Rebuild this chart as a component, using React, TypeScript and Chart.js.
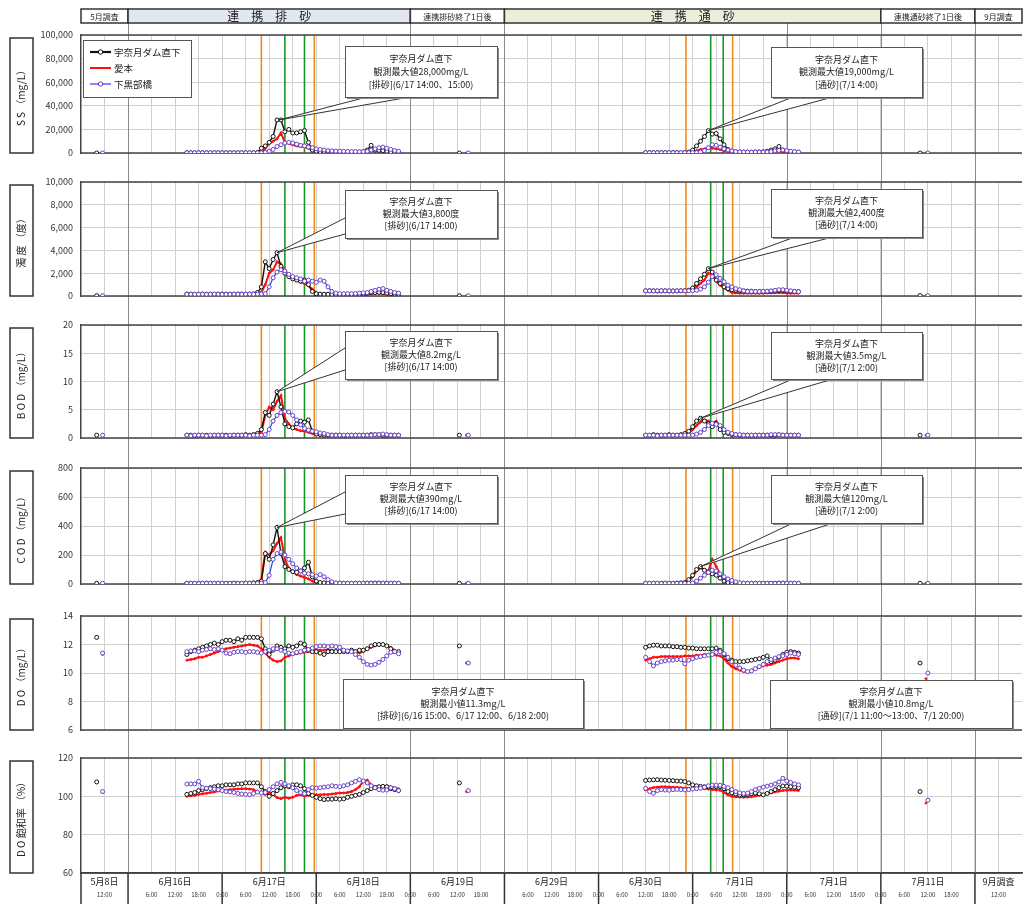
import React, { useEffect, useRef } from 'react';
import { Chart, registerables } from 'chart.js';

Chart.register(...registerables);

const FONT = '"Noto Sans CJK JP", "Noto Sans", sans-serif';

// ---------- x axis: compressed time line, hours from 5/8 6:00 ----------
const sectionLabels = ['5月8日', '6月16日', '6月17日', '6月18日', '6月19日', '6月29日', '6月30日', '7月1日', '7月1日', '7月11日', '9月調査'];
const sectionBounds = [0, 12, 36, 60, 84, 108, 132, 156, 180, 204, 228, 240];
const timeTickHours = [6, 12, 18, 24, 30, 36, 42, 48, 54, 60, 66, 72, 78, 84, 90, 96, 102, 108, 114, 120, 126, 132, 138, 144, 150, 156, 162, 168, 174, 180, 186, 192, 198, 204, 210, 216, 222, 228, 234];
const timeTickLabels = ['12:00', '', '6:00', '12:00', '18:00', '0:00', '6:00', '12:00', '18:00', '0:00', '6:00', '12:00', '18:00', '0:00', '6:00', '12:00', '18:00', '', '6:00', '12:00', '18:00', '0:00', '6:00', '12:00', '18:00', '0:00', '6:00', '12:00', '18:00', '0:00', '6:00', '12:00', '18:00', '0:00', '6:00', '12:00', '18:00', '', '12:00'];
const headerLabels = ['5月調査', '連 携 排 砂', '連携排砂終了1日後', '連 携 通 砂', '連携通砂終了1日後', '9月調査'];
const headerBounds = [0, 12, 84, 108, 204, 228, 240];
const separatorHours = [12, 84, 108, 180, 204, 228];
const orangeLineHours = [46, 59.5, 154.3, 166.2];
const greenLineHours = [52, 57, 160.6, 163.8];

// ---------- sampling times ----------
const P1_START = 27; // 6/16 15:00, hourly
const P2_START = 144; // 6/30 12:00, hourly
const singleHoursBlack = [4, 96.5, 214];
const singleHoursRed = [5.5, 98.3, 215.5];
const singleHoursBlue = [5.5, 98.8, 216];

const stationNames = ['宇奈月ダム直下', '愛本', '下黒部橋'];

// ---------- SS (mg/L) ----------
const ssBlack1 = [200, 180, 150, 160, 170, 150, 140, 160, 150, 130, 150, 160, 170, 150, 140, 150, 160, 180, 500, 4000, 6000, 9000, 14000, 28000, 28000, 18000, 20000, 17000, 17000, 18000, 19000, 9000, 2500, 1500, 1200, 1100, 1000, 900, 900, 800, 800, 700, 700, 700, 800, 1200, 2500, 6500, 2500, 2200, 2000, 1500, 1000, 700, 500];
const ssRed1 = [120, 110, 100, 100, 90, 100, 110, 100, 90, 100, 100, 110, 120, 100, 100, 90, 100, 120, 200, 1000, 4000, 8000, 10000, 12000, 17000, 9000, 8000, 7000, 6000, 5500, 5000, 4000, 2500, 1000, 600, 500, 500, 400, 400, 400, 300, 300, 300, 400, 500, 800, 1200, 2000, 2500, 2500, 2000, 1500, 1000, 500, 300];
const ssBlue1 = [200, 210, 190, 200, 220, 200, 190, 210, 200, 200, 190, 200, 210, 200, 190, 200, 220, 200, 210, 230, 500, 1500, 3000, 5500, 7000, 8500, 9000, 8500, 7500, 6500, 6000, 5000, 4500, 3500, 3000, 2500, 2000, 1800, 1600, 1500, 1400, 1300, 1200, 1200, 1100, 1200, 1500, 2500, 3500, 4500, 5000, 4000, 3000, 2000, 1500];
const ssBlack2 = [300, 280, 300, 320, 300, 290, 300, 310, 300, 320, 350, 800, 2500, 6000, 10000, 14000, 19000, 16000, 16500, 12000, 7000, 3000, 1500, 1000, 800, 800, 700, 700, 800, 900, 1000, 1500, 2500, 3500, 5500, 2500, 1500, 1000, 800, 600];
const ssRed2 = [200, 200, 180, 200, 210, 200, 190, 200, 200, 210, 220, 250, 800, 2000, 3000, 3500, 4500, 4000, 3500, 3000, 2000, 1200, 800, 500, 500, 450, 450, 500, 500, 500, 550, 600, 800, 1000, 1200, 1000, 800, 600, 500, 400];
const ssBlue2 = [300, 310, 300, 290, 300, 300, 310, 300, 300, 320, 300, 310, 330, 400, 800, 2000, 4500, 7000, 6500, 5000, 3500, 2500, 1800, 1200, 900, 800, 800, 750, 800, 800, 850, 900, 1200, 1800, 2200, 2500, 2000, 1500, 1200, 900];
const ssSingleBlack = [5, 3, 4];
const ssSingleRed = [3, 2, 3];
const ssSingleBlue = [4, 3, 3];

// ---------- 濁度 (度) ----------
const turbBlack1 = [170, 160, 150, 160, 170, 160, 150, 150, 160, 170, 160, 150, 160, 170, 170, 160, 170, 180, 300, 800, 3000, 2400, 3200, 3800, 2600, 2000, 1700, 1500, 1400, 1300, 1400, 1000, 400, 200, 170, 160, 150, 150, 140, 140, 150, 150, 140, 150, 160, 180, 220, 280, 300, 320, 300, 250, 200, 170, 150];
const turbRed1 = [150, 150, 140, 150, 160, 150, 150, 140, 150, 150, 160, 150, 150, 160, 150, 150, 160, 170, 200, 300, 1000, 2000, 2300, 3000, 2800, 2200, 1900, 1600, 1400, 1200, 1100, 900, 600, 300, 150, 110, 100, 100, 100, 90, 100, 100, 100, 110, 120, 140, 150, 200, 250, 250, 200, 150, 120, 100, 100];
const turbBlue1 = [150, 160, 150, 150, 160, 150, 160, 170, 160, 150, 150, 160, 170, 160, 150, 160, 170, 160, 170, 180, 200, 800, 1600, 2100, 2300, 2200, 1900, 1700, 1600, 1500, 1300, 1400, 1300, 1200, 1400, 1300, 800, 400, 250, 200, 200, 210, 200, 220, 250, 280, 300, 400, 500, 600, 650, 500, 400, 300, 250];
const turbBlack2 = [450, 460, 450, 440, 450, 460, 450, 440, 450, 460, 470, 500, 700, 1100, 1500, 1900, 2400, 2100, 1400, 1100, 800, 650, 550, 500, 480, 450, 430, 420, 400, 400, 400, 400, 420, 450, 480, 500, 450, 420, 400, 380];
const turbRed2 = [400, 400, 390, 400, 410, 400, 400, 390, 400, 410, 420, 440, 500, 800, 1100, 1400, 2000, 1850, 1300, 950, 700, 500, 300, 260, 250, 250, 240, 250, 250, 240, 250, 260, 270, 280, 300, 280, 260, 250, 250, 240];
const turbBlue2 = [450, 450, 440, 450, 460, 450, 450, 440, 450, 460, 450, 460, 470, 500, 600, 800, 1200, 1700, 1850, 1550, 1250, 950, 800, 650, 550, 450, 400, 400, 390, 400, 410, 420, 450, 500, 550, 550, 500, 450, 400, 380];
const turbSingleBlack = [30, 20, 40];
const turbSingleRed = [20, 15, 30];
const turbSingleBlue = [25, 20, 30];

// ---------- BOD (mg/L) ----------
const bodBlack1 = [0.5, 0.5, 0.4, 0.5, 0.5, 0.5, 0.4, 0.5, 0.5, 0.5, 0.5, 0.4, 0.5, 0.5, 0.5, 0.6, 0.5, 0.6, 0.8, 1.5, 4.5, 4.0, 6.0, 8.2, 5.5, 2.5, 2.0, 1.8, 2.5, 3.0, 2.8, 3.2, 1.2, 0.7, 0.6, 0.5, 0.5, 0.5, 0.5, 0.5, 0.4, 0.5, 0.5, 0.5, 0.5, 0.5, 0.5, 0.6, 0.6, 0.6, 0.5, 0.5, 0.5, 0.5, 0.5];
const bodRed1 = [0.5, 0.5, 0.5, 0.5, 0.4, 0.5, 0.5, 0.5, 0.5, 0.5, 0.5, 0.4, 0.5, 0.5, 0.5, 0.5, 0.5, 0.5, 0.6, 1.0, 4.0, 5.5, 5.0, 6.5, 7.5, 3.5, 2.5, 1.8, 1.5, 1.3, 1.2, 1.0, 0.8, 0.6, 0.5, 0.5, 0.5, 0.4, 0.5, 0.5, 0.5, 0.5, 0.4, 0.5, 0.5, 0.5, 0.5, 0.5, 0.6, 0.5, 0.5, 0.5, 0.5, 0.5, 0.5];
const bodBlue1 = [0.5, 0.4, 0.5, 0.5, 0.5, 0.4, 0.5, 0.5, 0.5, 0.5, 0.4, 0.5, 0.5, 0.5, 0.5, 0.5, 0.4, 0.5, 0.5, 0.5, 0.6, 1.5, 3.0, 4.0, 4.5, 4.7, 4.6, 4.0, 3.2, 2.3, 1.7, 1.4, 1.2, 1.1, 0.9, 0.8, 0.6, 0.5, 0.5, 0.5, 0.5, 0.5, 0.5, 0.5, 0.5, 0.5, 0.5, 0.5, 0.6, 0.6, 0.7, 0.6, 0.5, 0.5, 0.5];
const bodBlack2 = [0.5, 0.5, 0.6, 0.5, 0.5, 0.5, 0.6, 0.5, 0.5, 0.6, 0.8, 1.2, 2.0, 3.0, 3.5, 3.0, 2.5, 2.0, 2.6, 1.5, 1.0, 0.8, 0.6, 0.6, 0.5, 0.5, 0.5, 0.5, 0.5, 0.5, 0.5, 0.5, 0.5, 0.5, 0.6, 0.5, 0.5, 0.5, 0.5, 0.5];
const bodRed2 = [0.5, 0.5, 0.5, 0.5, 0.5, 0.5, 0.5, 0.5, 0.5, 0.5, 0.6, 0.8, 1.5, 2.2, 2.8, 3.2, 3.0, 2.6, 3.0, 1.8, 1.0, 0.7, 0.6, 0.5, 0.5, 0.5, 0.5, 0.5, 0.4, 0.5, 0.5, 0.5, 0.5, 0.5, 0.5, 0.5, 0.5, 0.5, 0.5, 0.5];
const bodBlue2 = [0.5, 0.5, 0.5, 0.4, 0.5, 0.5, 0.5, 0.5, 0.5, 0.5, 0.5, 0.5, 0.5, 0.7, 1.0, 1.5, 2.2, 2.6, 2.4, 2.2, 1.5, 1.0, 0.8, 0.6, 0.6, 0.5, 0.5, 0.5, 0.5, 0.5, 0.5, 0.5, 0.6, 0.6, 0.6, 0.5, 0.5, 0.5, 0.5, 0.5];
const bodSingleBlack = [0.5, 0.5, 0.5];
const bodSingleRed = [0.5, 0.5, 0.5];
const bodSingleBlue = [0.5, 0.5, 0.5];

// ---------- COD (mg/L) ----------
const codBlack1 = [5, 5, 4, 5, 5, 6, 5, 5, 5, 4, 5, 5, 6, 5, 5, 6, 6, 8, 10, 20, 210, 170, 270, 390, 210, 120, 100, 85, 80, 90, 110, 150, 50, 20, 10, 8, 6, 5, 5, 5, 5, 5, 5, 5, 5, 5, 6, 6, 6, 6, 5, 5, 5, 5, 5];
const codRed1 = [5, 5, 5, 5, 5, 5, 4, 5, 5, 5, 5, 5, 5, 5, 4, 5, 5, 6, 8, 30, 220, 200, 230, 280, 320, 170, 110, 85, 65, 55, 45, 35, 20, 10, 6, 5, 5, 5, 5, 5, 4, 5, 5, 5, 5, 5, 5, 5, 5, 5, 5, 5, 5, 5, 5];
const codBlue1 = [5, 5, 5, 4, 5, 5, 5, 5, 6, 5, 5, 5, 5, 4, 5, 5, 5, 5, 5, 6, 10, 60, 170, 210, 220, 200, 170, 140, 110, 90, 75, 70, 65, 55, 65, 50, 30, 15, 8, 6, 5, 5, 5, 5, 5, 5, 5, 5, 5, 6, 6, 6, 5, 5, 5];
const codBlack2 = [5, 5, 5, 5, 5, 6, 5, 5, 6, 8, 10, 30, 60, 100, 120, 95, 80, 70, 60, 40, 20, 10, 8, 6, 5, 5, 5, 5, 5, 5, 5, 5, 5, 5, 6, 6, 5, 5, 5, 5];
const codRed2 = [5, 5, 5, 5, 5, 5, 5, 5, 5, 6, 8, 20, 50, 90, 110, 100, 90, 170, 120, 70, 40, 20, 10, 6, 5, 5, 5, 5, 5, 5, 5, 5, 5, 5, 5, 5, 5, 5, 5, 5];
const codBlue2 = [5, 5, 5, 5, 4, 5, 5, 5, 5, 5, 5, 5, 6, 20, 40, 60, 80, 95, 90, 70, 50, 35, 25, 15, 8, 6, 5, 5, 5, 5, 5, 5, 5, 5, 5, 5, 5, 5, 5, 5];
const codSingleBlack = [5, 5, 5];
const codSingleRed = [5, 5, 5];
const codSingleBlue = [5, 5, 5];

// ---------- DO (mg/L) ----------
const doBlack1 = [11.3, 11.5, 11.6, 11.7, 11.8, 11.9, 12.0, 12.1, 12.0, 12.2, 12.3, 12.3, 12.2, 12.4, 12.3, 12.5, 12.5, 12.5, 12.5, 12.4, 11.7, 11.3, 11.6, 11.9, 11.8, 11.7, 11.9, 11.8, 11.9, 12.1, 12.0, 11.6, 11.5, 11.5, 11.4, 11.3, 11.5, 11.5, 11.5, 11.5, 11.5, 11.5, 11.6, 11.5, 11.6, 11.6, 11.7, 11.9, 12.0, 12.0, 12.0, 11.9, 11.7, 11.5, 11.5];
const doRed1 = [10.9, 10.95, 11.0, 11.1, 11.1, 11.2, 11.3, 11.4, 11.5, 11.6, 11.7, 11.75, 11.8, 11.85, 11.9, 11.95, 12.0, 11.95, 11.9, 11.7, 11.4, 11.1, 10.9, 10.8, 10.85, 11.1, 11.2, 11.3, 11.35, 11.4, 11.45, 11.5, 11.55, 11.6, 11.6, 11.6, 11.65, 11.6, 11.55, 11.6, 11.55, 11.5, 11.5, 11.45, 11.4, 11.5, 11.7, 11.8, 11.9, 12.0, 12.0, 11.9, 11.8, 11.6, 11.5];
const doBlue1 = [11.5, 11.55, 11.55, 11.5, 11.6, 11.65, 11.7, 11.65, 11.7, 11.6, 11.4, 11.35, 11.45, 11.5, 11.5, 11.45, 11.5, 11.5, 11.45, 11.4, 11.5, 11.6, 11.7, 11.7, 11.6, 11.5, 11.4, 11.35, 11.45, 11.5, 11.6, 11.65, 11.75, 11.85, 11.9, 11.9, 11.85, 11.9, 11.85, 11.8, 11.6, 11.55, 11.5, 11.3, 11.1, 10.8, 10.6, 10.55, 10.6, 10.75, 10.95, 11.2, 11.45, 11.5, 11.35];
const doBlack2 = [11.8, 11.9, 11.95, 11.95, 11.9, 11.9, 11.9, 11.85, 11.85, 11.8, 11.8, 11.75, 11.75, 11.7, 11.7, 11.7, 11.7, 11.7, 11.75, 11.6, 11.3, 11.0, 10.9, 10.8, 10.8, 10.8, 10.85, 10.9, 10.95, 11.0, 11.1, 11.2, 10.8, 10.9, 11.1, 11.3, 11.45, 11.5, 11.45, 11.4];
const doRed2 = [10.9, 11.0, 11.1, 11.1, 11.15, 11.15, 11.15, 11.15, 11.15, 11.15, 11.2, 11.2, 11.2, 11.25, 11.25, 11.3, 11.3, 11.3, 11.25, 11.2, 11.0, 10.7, 10.45, 10.3, 10.2, 10.1, 10.1, 10.2, 10.3, 10.4, 10.5, 10.55, 10.6, 10.7, 10.8, 10.9, 11.0, 11.05, 11.05, 11.0];
const doBlue2 = [11.1, 10.8, 10.5, 10.7, 10.8, 10.85, 10.9, 10.9, 10.95, 10.95, 10.65, 10.9, 11.0, 11.1, 11.15, 11.2, 11.25, 11.3, 11.45, 11.5, 11.35, 11.1, 10.8, 10.55, 10.35, 10.2, 10.1, 10.15, 10.3, 10.45, 10.6, 10.8, 10.95, 11.05, 11.15, 11.2, 11.3, 11.4, 11.35, 11.3];
const doSingleBlack = [12.5, 11.9, 10.7];
const doSingleRed = [11.3, 10.7, 9.6];
const doSingleBlue = [11.4, 10.7, 10.0];

// ---------- DO飽和率 (%) ----------
const satBlack1 = [101, 101.5, 102, 103, 103.5, 104, 104.5, 105, 105.5, 105.5, 106, 106, 106, 106.5, 106.5, 107, 107, 107, 107, 105, 102.5, 100, 101.5, 103, 104.5, 105.5, 105, 106, 106, 105.5, 104, 101.5, 100.5, 99.5, 98.8, 98.3, 98.5, 98.5, 98.8, 98.5, 98.7, 99.5, 100, 100.5, 101, 102, 103, 104, 104.5, 105, 105.2, 105, 104, 103.5, 103];
const satRed1 = [100, 100.3, 100.5, 101, 101.3, 101.6, 102, 102.3, 102.8, 103, 103.3, 103.5, 103.7, 103.8, 104, 104, 103.8, 103.5, 102.5, 101.5, 101, 102, 101, 99.3, 98.8, 99.5, 99, 99.5, 100.5, 100.8, 100.2, 100.5, 100.6, 100.8, 100.8, 101, 101, 101.2, 101.5, 101.7, 101.8, 102, 102.5, 103.5, 105, 108, 108.5, 106, 105.2, 105.3, 105.2, 105.5, 105, 104.5, 104];
const satBlue1 = [106.4, 106.5, 106.5, 107.8, 104.5, 104.2, 104, 103.8, 103.5, 103, 102.5, 102.3, 102, 101.5, 101.2, 101, 100.9, 101.5, 102.2, 101.8, 102, 103.5, 105, 106.5, 107.3, 106.5, 105.5, 104.5, 103, 102, 101.4, 103.5, 104.5, 104.3, 104.5, 104.8, 105, 105.5, 105.2, 105, 105.5, 106, 107, 107.8, 108.7, 108, 107, 105.5, 104.5, 103.5, 103.2, 103.3, 104.5, 104, 103];
const satBlack2 = [108.3, 108.5, 108.6, 108.7, 108.5, 108.4, 108.3, 108.2, 108, 107.9, 107.7, 107, 106, 105.5, 105.2, 105, 105, 105, 105, 105, 104, 102.5, 101.8, 101.2, 100.7, 100.8, 101, 101.4, 101.7, 101.3, 100.8, 101.5, 102.5, 103.5, 104.5, 105.4, 105.3, 105, 104.8, 104.5];
const satRed2 = [103.3, 104, 104.6, 104.8, 105, 105, 104.9, 104.8, 104.7, 104.5, 104.3, 104.2, 104, 104.2, 104.3, 104, 103.8, 103.5, 103.3, 103.2, 102, 100.7, 100, 99.8, 99.6, 99.5, 99.6, 99.8, 100.2, 100.6, 101, 101.4, 101.8, 102.3, 102.7, 103, 103.2, 103.3, 103.2, 103];
const satBlue2 = [104.2, 102.5, 101.6, 103, 103.5, 103.3, 103.2, 103.5, 103.6, 103.5, 103.4, 103.5, 103.8, 104, 104.2, 104.8, 105.5, 105.9, 105.9, 105.8, 105.2, 104.5, 103.5, 102.5, 101.8, 101.5, 101.7, 102.5, 103.5, 104.2, 104.8, 105.3, 105.9, 106.5, 107.5, 109.4, 108, 107.2, 106.5, 106];
const satSingleBlack = [107.5, 107, 102.5];
const satSingleRed = [102, 102.5, 96.5];
const satSingleBlue = [102.5, 103, 98];

// ---------- panels ----------
type Panel = {
  id: string; title: string; min: number; max: number; step: number;
  black: [number[], number[], number[]]; red: [number[], number[], number[]]; blue: [number[], number[], number[]];
};
const panels: Panel[] = [
  { id: 'ySS', title: 'S S （mg/L）', min: 0, max: 100000, step: 20000, black: [ssBlack1, ssBlack2, ssSingleBlack], red: [ssRed1, ssRed2, ssSingleRed], blue: [ssBlue1, ssBlue2, ssSingleBlue] },
  { id: 'yTurb', title: '濁 度 （度）', min: 0, max: 10000, step: 2000, black: [turbBlack1, turbBlack2, turbSingleBlack], red: [turbRed1, turbRed2, turbSingleRed], blue: [turbBlue1, turbBlue2, turbSingleBlue] },
  { id: 'yBOD', title: 'B O D （mg/L）', min: 0, max: 20, step: 5, black: [bodBlack1, bodBlack2, bodSingleBlack], red: [bodRed1, bodRed2, bodSingleRed], blue: [bodBlue1, bodBlue2, bodSingleBlue] },
  { id: 'yCOD', title: 'C O D （mg/L）', min: 0, max: 800, step: 200, black: [codBlack1, codBlack2, codSingleBlack], red: [codRed1, codRed2, codSingleRed], blue: [codBlue1, codBlue2, codSingleBlue] },
  { id: 'yDO', title: 'D O （mg/L）', min: 6, max: 14, step: 2, black: [doBlack1, doBlack2, doSingleBlack], red: [doRed1, doRed2, doSingleRed], blue: [doBlue1, doBlue2, doSingleBlue] },
  { id: 'ySat', title: 'D O 飽和率 （%）', min: 60, max: 120, step: 20, black: [satBlack1, satBlack2, satSingleBlack], red: [satRed1, satRed2, satSingleRed], blue: [satBlue1, satBlue2, satSingleBlue] },
];

// layout (pixels): panel heights and gaps between panels
const panelHeights = [118, 114, 113, 116, 114, 115];
const gapHeights = [29, 29, 30, 32, 28];

// ---------- callouts ----------
type Note = { panel: number; lines: string[]; box: [number, number, number, number]; leader?: [[number, number], [number, number]]; tip?: [number, number] };
const notes: Note[] = [
  { panel: 0, lines: ['宇奈月ダム直下', '観測最大値28,000mg/L', '[排砂](6/17 14:00、15:00)'], box: [345, 46, 497, 97], leader: [[367, 97], [410, 97]], tip: [50.5, 28000] },
  { panel: 1, lines: ['宇奈月ダム直下', '観測最大値3,800度', '[排砂](6/17 14:00)'], box: [345, 190, 497, 238], leader: [[345, 218], [345, 234]], tip: [50, 3800] },
  { panel: 2, lines: ['宇奈月ダム直下', '観測最大値8.2mg/L', '[排砂](6/17 14:00)'], box: [345, 331, 497, 379], leader: [[345, 348], [345, 370]], tip: [50, 8.2] },
  { panel: 3, lines: ['宇奈月ダム直下', '観測最大値390mg/L', '[排砂](6/17 14:00)'], box: [345, 475, 497, 523], leader: [[345, 492], [345, 514]], tip: [50, 390] },
  { panel: 0, lines: ['宇奈月ダム直下', '観測最大値19,000mg/L', '[通砂](7/1 4:00)'], box: [771, 47, 922, 97], leader: [[793, 97], [833, 97]], tip: [160, 19000] },
  { panel: 1, lines: ['宇奈月ダム直下', '観測最大値2,400度', '[通砂](7/1 4:00)'], box: [771, 189, 922, 237], leader: [[795, 237], [833, 237]], tip: [160, 2400] },
  { panel: 2, lines: ['宇奈月ダム直下', '観測最大値3.5mg/L', '[通砂](7/1 2:00)'], box: [771, 332, 922, 379], leader: [[793, 379], [833, 379]], tip: [158, 3.5] },
  { panel: 3, lines: ['宇奈月ダム直下', '観測最大値120mg/L', '[通砂](7/1 2:00)'], box: [771, 475, 922, 523], leader: [[793, 523], [833, 523]], tip: [158, 120] },
  { panel: 4, lines: ['宇奈月ダム直下', '観測最小値11.3mg/L', '[排砂](6/16 15:00、6/17 12:00、6/18 2:00)'], box: [343, 679, 583, 728] },
  { panel: 4, lines: ['宇奈月ダム直下', '観測最小値10.8mg/L', '[通砂](7/1 11:00～13:00、7/1 20:00)'], box: [770, 680, 1012, 728] },
];

function buildPoints(singleHours: number[], p1: number[], p2: number[], singles: number[]) {
  const pts: { x: number; y: number | null }[] = [];
  pts.push({ x: singleHours[0], y: singles[0] });
  pts.push({ x: singleHours[0] + 0.5, y: null });
  p1.forEach((v, i) => pts.push({ x: P1_START + i, y: v }));
  pts.push({ x: P1_START + p1.length, y: null });
  pts.push({ x: singleHours[1], y: singles[1] });
  pts.push({ x: singleHours[1] + 0.5, y: null });
  p2.forEach((v, i) => pts.push({ x: P2_START + i, y: v }));
  pts.push({ x: P2_START + p2.length, y: null });
  pts.push({ x: singleHours[2], y: singles[2] });
  return pts;
}

const blackStyle = { borderColor: '#111111', borderWidth: 1.4, pointRadius: 2, pointBorderWidth: 1, pointBorderColor: '#111111', pointBackgroundColor: '#ffffff', order: 1 };
const redStyle = { borderColor: '#ff1010', borderWidth: 2, pointRadius: 1, pointBorderWidth: 1, pointBorderColor: '#ff1010', pointBackgroundColor: '#ff1010', order: 2 };
const blueStyle = { borderColor: '#2244ee', borderWidth: 1.2, pointRadius: 2, pointBorderWidth: 1, pointBorderColor: '#6a40c8', pointBackgroundColor: '#ffffff', order: 0 };

function buildDatasets() {
  const ds: any[] = [];
  panels.forEach((p) => {
    ds.push({ label: stationNames[0], yAxisID: p.id, xAxisID: 'x', data: buildPoints(singleHoursBlack, p.black[0], p.black[1], p.black[2]), ...blackStyle });
    ds.push({ label: stationNames[1], yAxisID: p.id, xAxisID: 'x', data: buildPoints(singleHoursRed, p.red[0], p.red[1], p.red[2]), ...redStyle });
    ds.push({ label: stationNames[2], yAxisID: p.id, xAxisID: 'x', data: buildPoints(singleHoursBlue, p.blue[0], p.blue[1], p.blue[2]), ...blueStyle });
  });
  return ds;
}

function buildScales() {
  const sectionCenters = sectionLabels.map((_, i) => (sectionBounds[i] + sectionBounds[i + 1]) / 2);
  const scales: any = {
    x: {
      type: 'linear', position: 'bottom', min: 0, max: 240, weight: 2,
      afterBuildTicks: (s: any) => { s.ticks = timeTickHours.map((v) => ({ value: v })); },
      afterFit: (s: any) => { s.height = 14; },
      ticks: { autoSkip: false, maxRotation: 0, minRotation: 0, padding: 2, color: '#333', font: { size: 6, family: FONT }, callback: (_v: any, i: number) => timeTickLabels[i] },
      grid: { color: '#cfcfcf', lineWidth: 1, drawTicks: false },
      border: { display: false },
    },
    x2: {
      type: 'linear', position: 'bottom', min: 0, max: 240, weight: 1,
      afterBuildTicks: (s: any) => { s.ticks = sectionCenters.map((v) => ({ value: v })); },
      afterFit: (s: any) => { s.height = 16; },
      ticks: { autoSkip: false, maxRotation: 0, minRotation: 0, padding: 3, color: '#222', font: { size: 9, family: FONT }, callback: (_v: any, i: number) => sectionLabels[i] },
      grid: { display: false, drawTicks: false },
      border: { display: true, color: '#333', width: 1.5 },
    },
  };
  let w = 20;
  panels.forEach((p, i) => {
    scales[p.id] = {
      type: 'linear', position: 'left', stack: 'panels', stackWeight: panelHeights[i], weight: w--,
      min: p.min, max: p.max,
      afterFit: (s: any) => { s.width = 44; },
      ticks: { stepSize: p.step, autoSkip: false, padding: 8, color: '#333', font: { size: 9, family: FONT }, callback: (v: any) => Number(v).toLocaleString('en-US') },
      grid: { color: '#cfcfcf', lineWidth: 1, drawTicks: false },
      border: { display: true, color: '#444', width: 1.5 },
    };
    if (i < gapHeights.length) {
      scales['gap' + i] = {
        type: 'linear', position: 'left', stack: 'panels', stackWeight: gapHeights[i], weight: w--,
        min: 0, max: 1,
        afterFit: (s: any) => { s.width = 44; },
        ticks: { display: false }, grid: { display: false, drawTicks: false }, border: { display: false },
      };
    }
  });
  return scales;
}

function line(ctx: CanvasRenderingContext2D, x1: number, y1: number, x2: number, y2: number) {
  ctx.beginPath(); ctx.moveTo(x1, y1); ctx.lineTo(x2, y2); ctx.stroke();
}

const decorPlugin = {
  id: 'decor',
  beforeDatasetsDraw(chart: any) {
    const ctx: CanvasRenderingContext2D = chart.ctx;
    const area = chart.chartArea;
    const xs = chart.scales.x;
    ctx.save();
    // clear gaps between panels
    for (let i = 0; i < panels.length - 1; i++) {
      const a = chart.scales[panels[i].id];
      const b = chart.scales[panels[i + 1].id];
      ctx.fillStyle = '#ffffff';
      ctx.fillRect(area.left - 1, a.bottom + 1, area.right - area.left + 2, b.top - a.bottom - 2);
    }
    // long separator lines
    ctx.strokeStyle = '#8a8a8a'; ctx.lineWidth = 1;
    separatorHours.forEach((h) => { const x = Math.round(xs.getPixelForValue(h)) + 0.5; line(ctx, x, 23, x, area.bottom); });
    // event lines and panel frames
    panels.forEach((p) => {
      const s = chart.scales[p.id];
      ctx.lineWidth = 1.6;
      ctx.strokeStyle = '#f28a1e';
      orangeLineHours.forEach((h) => { const x = xs.getPixelForValue(h); line(ctx, x, s.top, x, s.bottom); });
      ctx.strokeStyle = '#17962a';
      greenLineHours.forEach((h) => { const x = xs.getPixelForValue(h); line(ctx, x, s.top, x, s.bottom); });
      ctx.strokeStyle = '#444'; ctx.lineWidth = 1.5;
      line(ctx, area.left, s.top, area.right, s.top);
      line(ctx, area.left, s.bottom, area.right, s.bottom);
    });
    ctx.restore();
  },
  afterDatasetsDraw(chart: any) {
    const ctx: CanvasRenderingContext2D = chart.ctx;
    const xs = chart.scales.x;
    ctx.save();
    // legend
    const lx = 83, ly = 40;
    ctx.fillStyle = '#fff'; ctx.fillRect(lx, ly, 108, 57);
    ctx.strokeStyle = '#555'; ctx.lineWidth = 1; ctx.strokeRect(lx + 0.5, ly + 0.5, 108, 57);
    const legendStyles = [blackStyle, redStyle, blueStyle];
    legendStyles.forEach((st: any, i) => {
      const y = ly + 12 + i * 16;
      ctx.strokeStyle = st.borderColor; ctx.lineWidth = i === 0 ? 2.2 : st.borderWidth;
      line(ctx, lx + 7, y, lx + 28, y);
      if (i !== 1) {
        ctx.beginPath(); ctx.arc(lx + 17.5, y, 2.2, 0, Math.PI * 2);
        ctx.fillStyle = '#fff'; ctx.fill(); ctx.strokeStyle = st.pointBorderColor; ctx.lineWidth = 1; ctx.stroke();
      }
      ctx.fillStyle = '#222'; ctx.font = `9.5px ${FONT}`; ctx.textAlign = 'left'; ctx.textBaseline = 'middle';
      ctx.fillText(stationNames[i], lx + 31, y);
    });
    // callouts
    notes.forEach((n) => {
      const [x1, y1, x2, y2] = n.box;
      if (n.leader && n.tip) {
        const ys = chart.scales[panels[n.panel].id];
        const tx = xs.getPixelForValue(n.tip[0]);
        const ty = ys.getPixelForValue(n.tip[1]);
        ctx.beginPath(); ctx.moveTo(n.leader[0][0], n.leader[0][1]); ctx.lineTo(tx, ty); ctx.lineTo(n.leader[1][0], n.leader[1][1]); ctx.closePath();
        ctx.fillStyle = '#fff'; ctx.fill();
        ctx.strokeStyle = '#333'; ctx.lineWidth = 1;
        ctx.beginPath(); ctx.moveTo(n.leader[0][0], n.leader[0][1]); ctx.lineTo(tx, ty); ctx.lineTo(n.leader[1][0], n.leader[1][1]); ctx.stroke();
      }
      ctx.fillStyle = '#8a8a8a'; ctx.fillRect(x1 + 2, y1 + 2, x2 - x1, y2 - y1);
      ctx.fillStyle = '#fff'; ctx.fillRect(x1, y1, x2 - x1, y2 - y1);
      ctx.strokeStyle = '#555'; ctx.lineWidth = 1; ctx.strokeRect(x1 + 0.5, y1 + 0.5, x2 - x1, y2 - y1);
      ctx.fillStyle = '#222'; ctx.font = `9px ${FONT}`; ctx.textAlign = 'center'; ctx.textBaseline = 'middle';
      const h = y2 - y1;
      n.lines.forEach((t, i) => ctx.fillText(t, (x1 + x2) / 2, y1 + h * (0.25 + 0.25 * i)));
    });
    ctx.restore();
  },
  afterDraw(chart: any) {
    const ctx: CanvasRenderingContext2D = chart.ctx;
    const area = chart.chartArea;
    const xs = chart.scales.x;
    ctx.save();
    // header band
    const hTop = 9, hBot = 23;
    headerLabels.forEach((lab, i) => {
      const x1 = xs.getPixelForValue(headerBounds[i]);
      const x2 = Math.min(xs.getPixelForValue(headerBounds[i + 1]), 1040);
      ctx.fillStyle = i === 1 ? '#e2e7f0' : i === 3 ? '#eceedb' : '#ffffff';
      ctx.fillRect(x1, hTop, x2 - x1, hBot - hTop);
      ctx.strokeStyle = '#333'; ctx.lineWidth = 1.5; ctx.strokeRect(x1, hTop, x2 - x1, hBot - hTop);
      ctx.fillStyle = '#222'; ctx.textAlign = 'center'; ctx.textBaseline = 'middle';
      const big = i === 1 || i === 3;
      ctx.font = big ? `12px ${FONT}` : `8px ${FONT}`;
      ctx.fillText(big ? lab.split(' ').join('　') : lab, (x1 + x2) / 2, (hTop + hBot) / 2 + 0.5);
    });
    // y title boxes
    panels.forEach((p) => {
      const s = chart.scales[p.id];
      const bx = 10, bw = 23;
      ctx.strokeStyle = '#333'; ctx.lineWidth = 1.5;
      ctx.strokeRect(bx, s.top + 3, bw, s.bottom - s.top - 3);
      ctx.save();
      ctx.translate(bx + bw / 2, (s.top + 3 + s.bottom) / 2);
      ctx.rotate(-Math.PI / 2);
      ctx.fillStyle = '#222'; ctx.font = `10px ${FONT}`; ctx.textAlign = 'center'; ctx.textBaseline = 'middle';
      ctx.fillText(p.title, 0, 0);
      ctx.restore();
    });
    // x-axis section separators
    ctx.strokeStyle = '#333'; ctx.lineWidth = 1.5;
    sectionBounds.slice(0, -1).forEach((h) => {
      const x = xs.getPixelForValue(h);
      line(ctx, x, area.bottom, x, area.bottom + 31);
    });
    ctx.restore();
  },
};

export default function App() {
  const ref = useRef<HTMLCanvasElement>(null);
  useEffect(() => {
    document.body.style.margin = '0';
    const chart = new Chart(ref.current as HTMLCanvasElement, {
      type: 'line',
      data: { datasets: buildDatasets() },
      options: {
        responsive: false,
        animation: false,
        devicePixelRatio: 1,
        events: [],
        spanGaps: false,
        layout: { padding: { left: 37, right: 0, top: 35, bottom: 4 } },
        elements: { line: { tension: 0 } },
        plugins: { legend: { display: false }, tooltip: { enabled: false } },
        scales: buildScales(),
      } as any,
      plugins: [decorPlugin],
    });
    return () => chart.destroy();
  }, []);
  return (
    <div style={{ position: 'absolute', left: 0, top: 0, width: 1027, height: 907, background: '#fff' }}>
      <canvas ref={ref} width={1027} height={907} style={{ width: 1027, height: 907, display: 'block' }} />
    </div>
  );
}
